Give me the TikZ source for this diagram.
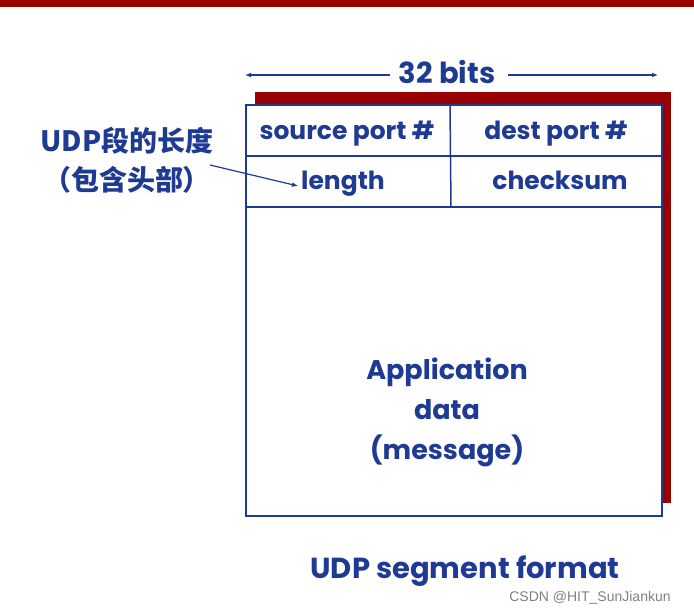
\documentclass[tikz,border=0pt]{standalone}
\usepackage{fontspec}
\setmainfont{Poppins}
\newfontfamily\cjk{Noto Sans CJK SC}
\newfontfamily\wm{Liberation Sans}
\usetikzlibrary{arrows.meta}
\definecolor{navy}{RGB}{31,58,147}
\definecolor{darkred}{RGB}{153,0,0}
\begin{document}
\begin{tikzpicture}[x=1pt,y=-1pt,
  lbl/.style={text=navy,font=\fontsize{25}{28}\selectfont\bfseries,inner sep=0pt},
  cjklbl/.style={text=navy,font=\fontsize{28}{32}\selectfont\cjk\bfseries,inner sep=0pt},
  rule/.style={draw=navy,line width=1.5pt}]
\useasboundingbox (0,0) rectangle (694,613);
\fill[darkred] (0,0) rectangle (694,7);
\fill[darkred] (255,92) rectangle (671,503);
\draw[navy,line width=2pt,fill=white] (246,105) rectangle (662,516);
\coordinate (r1l) at (246,156);
\coordinate (r1r) at (662,156);
\coordinate (r2l) at (246,207);
\coordinate (r2r) at (662,207);
\coordinate (v1t) at (450,105);
\coordinate (v1b) at (451,207);
\draw[rule] (r1l) -- (r1r);
\draw[rule] (r2l) -- (r2r);
\draw[rule] (v1t) -- (v1b);
\node[lbl,font=\fontsize{29}{32}\selectfont\bfseries] (bits) at (447,72) {32 bits};
\coordinate (bl) at (245,75);
\coordinate (br) at (658,75);
\coordinate (bla) at (390,75);
\coordinate (bra) at (508,75);
\draw[navy,line width=1.5pt,-{Latex[length=6pt,width=5pt]}] (bla) -- (bl);
\draw[navy,line width=1.5pt,-{Latex[length=6pt,width=5pt]}] (bra) -- (br);
\node[lbl] (src) at (347,134) {source port \#};
\node[lbl] (dst) at (556,134) {dest port \#};
\node[lbl] (len) at (343,184) {length};
\node[lbl] (chk) at (560,180) {checksum};
\node[lbl,align=center,font=\fontsize{27}{40}\selectfont\bfseries] (app) at (447,412) {Application\\data\\(message)};
\node[lbl,font=\fontsize{29}{32}\selectfont\bfseries] (fmt) at (465,571) {UDP segment format};
\node[cjklbl] (c1) at (127,141) {UDP段的长度};
\node[cjklbl] (c2) at (127,180) {（包含头部）};
\coordinate (ca) at (210,165);
\draw[navy,line width=1.2pt,-{Latex[length=6pt,width=5pt]}] (ca) -- ([xshift=-3pt,yshift=-2pt]len.west);
\node[text=gray,font=\fontsize{14}{16}\selectfont\wm,inner sep=0pt] (wm) at (590,598) {CSDN @HIT\_SunJiankun};
\end{tikzpicture}
\end{document}
